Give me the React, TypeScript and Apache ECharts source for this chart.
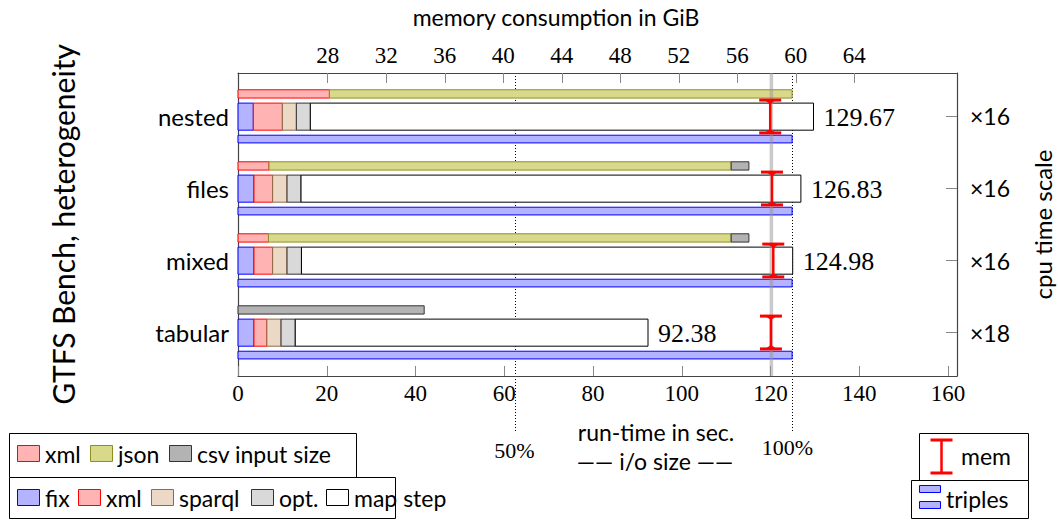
import React, { useEffect, useRef } from 'react';
import * as echarts from 'echarts';

// ---------- data ----------
const categories = ['nested', 'files', 'mixed', 'tabular'];
const cpuTimeScale = ['×16', '×16', '×16', '×18'];

// run-time in seconds (stacked)
const fixTime = [3.45, 3.6, 3.6, 3.6];
const xmlTime = [6.55, 4.2, 4.2, 2.9];
const sparqlTime = [3.15, 3.25, 3.25, 3.2];
const optTime = [3.15, 3.15, 3.25, 3.2];
const totalTime = [129.67, 126.83, 124.98, 92.38];

// input size in % of i/o size (stacked)
const xmlInput = [16.5, 5.6, 5.5, 0];
const jsonInput = [83.5, 83.4, 83.5, 0];
const csvInput = [0, 3.2, 3.2, 33.6];
// triples output in % of i/o size
const triplesOut = [100, 100, 100, 100];

// memory consumption in GiB
const memGiB = [58.25, 58.37, 58.46, 58.3];
const memLine = [58.33];

// tick labels
const runTimeTicks = [0, 20, 40, 60, 80, 100, 120, 140, 160];
const memTicks = [28, 32, 36, 40, 44, 48, 52, 56, 60, 64];
const ioMarks = [50, 100];
const catTicks = [0, 1, 2, 3];

// ---------- scale set-up ----------
const RUN_MAX = 162;
const IO_FULL_SEC = 124.85; // 100% i/o size sits at this run-time position
const IO_MAX = (RUN_MAX * 100) / IO_FULL_SEC;
const MEM_MIN = 21.865;
const MEM_MAX = 71.02;
const Y_MIN = -0.604;
const Y_MAX = 3.604;

const SANS = 'Lato';
const SERIF = 'Liberation Serif';

const C = {
  xml: { fill: '#ffb3b3', stroke: '#ff0000' },
  json: { fill: '#d9d98c', stroke: '#8f8f1f' },
  csv: { fill: '#b3b3b3', stroke: '#333333' },
  fix: { fill: '#b3b3ff', stroke: '#0000ff' },
  sparql: { fill: '#ebd9c6', stroke: '#8b6b4a' },
  opt: { fill: '#d9d9d9', stroke: '#333333' },
  map: { fill: '#ffffff', stroke: '#000000' },
  triples: { fill: '#b3b3ff', stroke: '#0000ff' },
};

// vertical band offsets (in category units) for the three bars of a group
const BAND_IN: [number, number] = [-0.371, -0.256];
const BAND_RUN: [number, number] = [-0.186, 0.19];
const BAND_OUT: [number, number] = [0.26, 0.367];

function stackSegments(parts: number[][]): number[][][] {
  const n = parts[0].length;
  const acc = new Array(n).fill(0);
  return parts.map((vals) =>
    vals.map((v, i) => {
      const s = acc[i];
      acc[i] += v;
      return [s, s + v, i];
    })
  );
}

function barRender(band: [number, number], fill: string, stroke: string) {
  return (params: any, api: any) => {
    const s = api.value(0);
    const e = api.value(1);
    const c = api.value(2);
    if (e - s <= 0) return null;
    const p0 = api.coord([s, c]);
    const p1 = api.coord([e, c]);
    const unit = api.size([0, 1])[1];
    return {
      type: 'rect',
      shape: {
        x: p0[0],
        y: p0[1] + band[0] * unit,
        width: p1[0] - p0[0],
        height: (band[1] - band[0]) * unit,
      },
      style: { fill, stroke, lineWidth: 1 },
    };
  };
}

function buildOption() {
  const mapStep = totalTime.map(
    (t, i) => t - fixTime[i] - xmlTime[i] - sparqlTime[i] - optTime[i]
  );
  const runSegs = stackSegments([fixTime, xmlTime, sparqlTime, optTime, mapStep]);
  const runStyles = [C.fix, C.xml, C.sparql, C.opt, C.map];
  const runNames = ['fix', 'xml', 'sparql', 'opt.', 'map step'];

  const inSegs = stackSegments([xmlInput, jsonInput, csvInput]);
  const inStyles = [C.xml, C.json, C.csv];
  const inNames = ['xml input', 'json input', 'csv input size'];

  const outSegs = stackSegments([triplesOut]);

  const series: any[] = [];
  inSegs.forEach((data, k) =>
    series.push({
      type: 'custom',
      name: inNames[k],
      xAxisIndex: 2,
      yAxisIndex: 0,
      z: 2,
      encode: { x: [0, 1], y: 2 },
      data,
      renderItem: barRender(BAND_IN, inStyles[k].fill, inStyles[k].stroke),
    })
  );
  runSegs.forEach((data, k) =>
    series.push({
      type: 'custom',
      name: runNames[k],
      xAxisIndex: 0,
      yAxisIndex: 0,
      z: 2,
      encode: { x: [0, 1], y: 2 },
      data,
      renderItem: barRender(BAND_RUN, runStyles[k].fill, runStyles[k].stroke),
    })
  );
  series.push({
    type: 'custom',
    name: 'triples',
    xAxisIndex: 2,
    yAxisIndex: 0,
    z: 2,
    encode: { x: [0, 1], y: 2 },
    data: outSegs[0],
    renderItem: barRender(BAND_OUT, C.triples.fill, C.triples.stroke),
  });
  // gray memory reference line
  series.push({
    type: 'custom',
    name: 'mem line',
    xAxisIndex: 1,
    yAxisIndex: 0,
    z: 3,
    encode: { x: 0 },
    data: memLine.map((m) => [m]),
    renderItem: (params: any, api: any) => {
      const cs = params.coordSys;
      const x = api.coord([api.value(0), 0])[0];
      return {
        type: 'line',
        shape: { x1: x, y1: cs.y, x2: x, y2: cs.y + cs.height },
        style: { stroke: 'rgba(150,150,150,0.5)', lineWidth: 3.5 },
      };
    },
  });
  // memory markers
  series.push({
    type: 'custom',
    name: 'mem',
    xAxisIndex: 1,
    yAxisIndex: 0,
    z: 5,
    encode: { x: 0, y: 1 },
    data: memGiB.map((m, i) => [m, i]),
    renderItem: (params: any, api: any) => {
      const p = api.coord([api.value(0), api.value(1)]);
      const unit = api.size([0, 1])[1];
      const h = 0.228 * unit;
      const red = '#ff0000';
      const x = p[0];
      const yT = p[1] - h;
      const yB = p[1] + h;
      return {
        type: 'group',
        children: [
          { type: 'line', shape: { x1: x, y1: yT, x2: x, y2: yB }, style: { stroke: red, lineWidth: 2.5 } },
          { type: 'line', shape: { x1: x - 11, y1: yT, x2: x + 11, y2: yT }, style: { stroke: red, lineWidth: 3 } },
          { type: 'line', shape: { x1: x - 11, y1: yB, x2: x + 11, y2: yB }, style: { stroke: red, lineWidth: 3 } },
          { type: 'polygon', shape: { points: [[x - 6, yT], [x + 6, yT], [x, yT + 4]] }, style: { fill: red } },
          { type: 'polygon', shape: { points: [[x - 6, yB], [x + 6, yB], [x, yB - 4]] }, style: { fill: red } },
        ],
      };
    },
  });

  const frame = { show: true, onZero: false, lineStyle: { color: '#444', width: 1.2 } };

  return {
    animation: false,
    backgroundColor: '#fff',
    grid: {
      left: 238,
      top: 73,
      width: 719,
      height: 303,
      containLabel: false,
      outerBoundsMode: 'none',
    },
    xAxis: [
      {
        type: 'value',
        position: 'bottom',
        min: 0,
        max: RUN_MAX,
        axisLine: frame,
        splitLine: { show: false },
        axisTick: { show: true, inside: true, length: 10, customValues: runTimeTicks, lineStyle: { color: '#888', width: 1 } },
        axisLabel: { customValues: runTimeTicks, margin: 6, fontFamily: SERIF, fontSize: 23, color: '#000' },
      },
      {
        type: 'value',
        position: 'top',
        min: MEM_MIN,
        max: MEM_MAX,
        axisLine: frame,
        splitLine: { show: false },
        axisTick: { show: true, inside: true, length: 10, customValues: memTicks, lineStyle: { color: '#888', width: 1 } },
        axisLabel: { customValues: memTicks, margin: 6, fontFamily: SERIF, fontSize: 23, color: '#000' },
      },
      {
        type: 'value',
        position: 'bottom',
        min: 0,
        max: IO_MAX,
        show: false,
        axisLine: { show: false, onZero: false },
        splitLine: { show: false },
      },
    ],
    yAxis: [
      {
        type: 'value',
        position: 'left',
        inverse: true,
        min: Y_MIN,
        max: Y_MAX,
        axisLine: frame,
        splitLine: { show: false },
        axisTick: { show: false },
        axisLabel: {
          customValues: catTicks,
          formatter: (v: number) => categories[Math.round(v)] ?? '',
          margin: 9,
          fontFamily: SANS,
          fontSize: 24,
          color: '#000',
        },
        name: 'GTFS Bench, heterogeneity',
        nameLocation: 'middle',
        nameRotate: 90,
        nameGap: 160,
        nameTextStyle: { fontFamily: SANS, fontSize: 30, color: '#000' },
      },
      {
        type: 'value',
        position: 'right',
        inverse: true,
        min: Y_MIN,
        max: Y_MAX,
        axisLine: frame,
        splitLine: { show: false },
        axisTick: { show: true, inside: true, length: 11, customValues: catTicks, lineStyle: { color: '#888', width: 1 } },
        axisLabel: {
          customValues: catTicks,
          formatter: (v: number) => cpuTimeScale[Math.round(v)] ?? '',
          margin: 13,
          fontFamily: SANS,
          fontSize: 23,
          color: '#000',
        },
        name: 'cpu time scale',
        nameLocation: 'middle',
        nameRotate: 90,
        nameGap: 73,
        nameTextStyle: { fontFamily: SANS, fontSize: 24, color: '#000' },
      },
    ],
    series,
  };
}

function txt(text: string, x: number, y: number, size: number, family: string, align = 'left', extra: any = {}) {
  return {
    type: 'text',
    x,
    y,
    z: 10,
    ...extra,
    style: {
      text,
      fontFamily: family,
      fontSize: size,
      fill: '#000',
      align,
      verticalAlign: 'middle',
      textAlign: align,
      textVerticalAlign: 'middle',
    },
  };
}

function swatch(x: number, y: number, w: number, h: number, c: { fill: string; stroke: string }) {
  return {
    type: 'rect',
    z: 10,
    shape: { x: x + 0.5, y: y + 0.5, width: w, height: h },
    style: { fill: c.fill, stroke: c.stroke, lineWidth: 1 },
  };
}

function frameRect(x: number, y: number, w: number, h: number) {
  return {
    type: 'rect',
    z: 9,
    shape: { x: x + 0.5, y: y + 0.5, width: w, height: h },
    style: { fill: '#fff', stroke: '#000', lineWidth: 1 },
  };
}

export default function App() {
  const ref = useRef<HTMLDivElement>(null);
  useEffect(() => {
    if (!ref.current) return;
    const chart = echarts.init(ref.current, null, { renderer: 'svg' });
    chart.setOption(buildOption() as any);

    const xIo = (v: number) => chart.convertToPixel({ xAxisIndex: 2 }, v) as unknown as number;
    const xRun = (v: number) => chart.convertToPixel({ xAxisIndex: 0 }, v) as unknown as number;
    const yCat = (v: number) => chart.convertToPixel({ yAxisIndex: 0 }, v) as unknown as number;
    const yTop = yCat(Y_MIN);

    const g: any[] = [];
    // run-time value labels
    totalTime.forEach((t, i) => {
      g.push(txt(t.toFixed(2), xRun(t) + 10, yCat(i) + 1, 26, SERIF, 'left', { z: 4 }));
    });
    // i/o size reference lines (behind bars)
    ioMarks.forEach((m, k) => {
      const x = Math.round(xIo(m)) + 0.5;
      g.push({
        type: 'line',
        z: 0,
        shape: { x1: x, y1: yTop, x2: x, y2: 433 },
        style: { stroke: '#000', lineWidth: 1, lineDash: [1, 2] },
      });
      g.push(txt(m + '%', k === 0 ? x - 1 : x - 5, k === 0 ? 450 : 447, 22, SERIF, 'center'));
    });

    // titles
    g.push(txt('memory consumption in GiB', 556, 17, 23, SANS, 'center'));
    g.push(txt('run-time in sec.', 656, 432, 23, SANS, 'center'));
    g.push(txt('—— i/o size ——', 655, 461, 23, SANS, 'center'));

    // legend: input size
    g.push(frameRect(9, 433, 347, 44));
    const inLegend = [
      { name: 'xml', c: C.xml, x: 17 },
      { name: 'json', c: C.json, x: 90 },
      { name: 'csv input size', c: C.csv, x: 169 },
    ];
    inLegend.forEach((it) => {
      g.push(swatch(it.x, 445, 22, 16, it.c));
      g.push(txt(it.name, it.x + 28, 454, 23, SANS));
    });

    // legend: run-time components
    g.push(frameRect(9, 477, 386, 41));
    const runLegend = [
      { name: 'fix', c: C.fix, x: 17 },
      { name: 'xml', c: C.xml, x: 78 },
      { name: 'sparql', c: C.sparql, x: 151 },
      { name: 'opt.', c: C.opt, x: 251 },
      { name: 'map step', c: C.map, x: 326 },
    ];
    runLegend.forEach((it) => {
      g.push(swatch(it.x, 489, 22, 16, it.c));
      g.push(txt(it.name, it.x + 28, 498, 23, SANS));
    });

    // legend: mem
    g.push(frameRect(919, 433, 109, 47));
    const mx = 941.5;
    g.push({ type: 'line', z: 10, shape: { x1: mx, y1: 440, x2: mx, y2: 473 }, style: { stroke: '#ff0000', lineWidth: 2.5 } });
    g.push({ type: 'line', z: 10, shape: { x1: mx - 11, y1: 440, x2: mx + 11, y2: 440 }, style: { stroke: '#ff0000', lineWidth: 3 } });
    g.push({ type: 'line', z: 10, shape: { x1: mx - 11, y1: 473, x2: mx + 11, y2: 473 }, style: { stroke: '#ff0000', lineWidth: 3 } });
    g.push(txt('mem', 961, 456, 23, SANS));

    // legend: triples
    g.push(frameRect(911, 480, 117, 38));
    g.push(swatch(919, 485, 21, 7, C.triples));
    g.push(swatch(919, 501, 21, 7, C.triples));
    g.push(txt('triples', 946, 499, 23, SANS));

    chart.setOption({ graphic: g } as any);
    return () => chart.dispose();
  }, []);

  return (
    <div
      ref={ref}
      style={{ position: 'absolute', left: 0, top: 0, width: 1058, height: 523, background: '#fff' }}
    />
  );
}
